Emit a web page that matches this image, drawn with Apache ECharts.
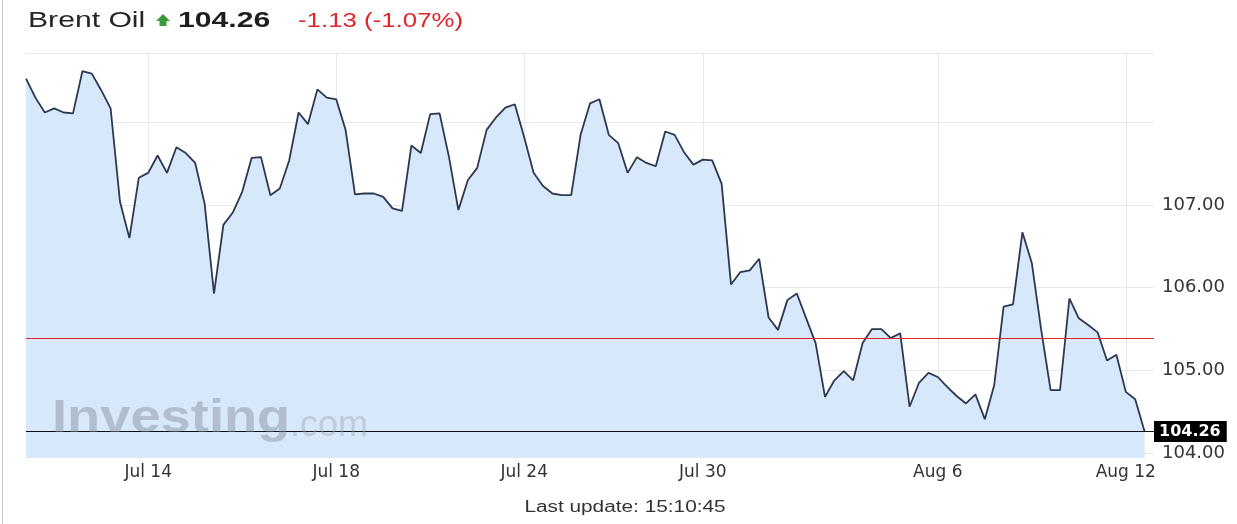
<!DOCTYPE html>
<html>
<head>
<meta charset="utf-8">
<script src="https://cdn.jsdelivr.net/npm/echarts@6/dist/echarts.min.js"></script>
<style>
html,body{margin:0;padding:0;background:#fff;}
#chart{width:1237px;height:524px;}
</style>
</head>
<body>
<div id="chart"></div>
<script>
// ---- data ----
const instrument = 'Brent Oil';
const lastPrice = 104.26;
const change = '-1.13 (-1.07%)';
const prevClose = 105.39;
const lastUpdate = 'Last update: 15:10:45';

const brent = [
  108.53,108.30,108.12,108.17,108.12,108.11,108.62,108.59,108.39,108.17,
  107.04,106.60,107.33,107.39,107.60,107.39,107.70,107.63,107.51,107.02,
  105.93,106.76,106.91,107.16,107.57,107.58,107.12,107.20,107.54,108.12,
  107.98,108.40,108.30,108.28,107.91,107.13,107.14,107.14,107.10,106.96,
  106.93,107.72,107.63,108.10,108.11,107.58,106.94,107.30,107.45,107.91,
  108.06,108.18,108.22,107.82,107.39,107.23,107.14,107.12,107.12,107.85,
  108.23,108.28,107.85,107.75,107.39,107.58,107.51,107.47,107.89,107.85,
  107.64,107.49,107.55,107.54,107.26,106.04,106.19,106.21,106.35,105.64,
  105.49,105.85,105.93,105.63,105.33,104.68,104.88,104.99,104.88,105.33,
  105.50,105.50,105.39,105.45,104.56,104.85,104.97,104.92,104.80,104.69,
  104.60,104.71,104.41,104.82,105.77,105.80,106.67,106.30,105.49,104.76,
  104.76,105.87,105.63,105.55,105.46,105.12,105.19,104.74,104.65,104.26
];
const tickLabels = ['Jul 14','Jul 18','Jul 24','Jul 30','Aug 6','Aug 12'];
const tickIndex  = [13, 33, 53, 72, 97, 117];
const yLabelValues = [104, 105, 106, 107];
const yGridValues  = [104, 105, 106, 107, 108];
const yMin = 103.94, yMax = 108.84;

// category slots (one trailing empty slot keeps the right frame past the last point)
const slots = [];
for (let i = 0; i <= brent.length; i++) slots.push('s' + i);
const labelAt = {};
tickIndex.forEach((idx, k) => { labelAt[idx] = tickLabels[k]; });
const isTick = (i) => labelAt.hasOwnProperty(i);

const SANS = '"Liberation Sans", Arial, sans-serif';
const WIDE = '"DejaVu Sans", sans-serif';
const chart = echarts.init(document.getElementById('chart'));
chart.setOption({
  animation: false,
  backgroundColor: '#ffffff',
  textStyle: { fontFamily: WIDE },
  graphic: [
    { type: 'rect', shape: { x: 2, y: 0, width: 1, height: 524 }, style: { fill: '#c8c8c8' }, silent: true },
    // header
    { type: 'text', x: 28, y: 21, scaleX: 1.37, silent: true,
      style: { text: instrument, font: '22px ' + SANS, fill: '#262626', textVerticalAlign: 'middle' } },
    { type: 'polygon', silent: true,
      shape: { points: [[163, 14], [170, 21], [166.5, 21], [166.5, 26], [159.5, 26], [159.5, 21], [156, 21]] },
      style: { fill: '#3a9b3a' } },
    { type: 'text', x: 178, y: 21, scaleX: 1.37, silent: true,
      style: { text: lastPrice.toFixed(2), font: 'bold 22px ' + SANS, fill: '#1e1e1e', textVerticalAlign: 'middle' } },
    { type: 'text', x: 298, y: 21, scaleX: 1.23, silent: true,
      style: { text: change, font: '21px ' + SANS, fill: '#e0262b', textVerticalAlign: 'middle' } },
    // footer
    { type: 'text', x: 625, y: 508, scaleX: 1.3, silent: true,
      style: { text: lastUpdate, font: '16px ' + SANS, fill: '#333', textAlign: 'center', textVerticalAlign: 'middle' } },
    // watermark
    { type: 'text', x: 52, y: 419, scaleX: 1.18, z: 100, silent: true,
      style: { text: 'Investing', font: 'bold 46px ' + SANS, fill: 'rgba(130,140,152,0.45)', textVerticalAlign: 'middle' } },
    { type: 'text', x: 290, y: 426, z: 100, silent: true,
      style: { text: '.com', font: '36px ' + SANS, fill: 'rgba(150,160,172,0.4)', textVerticalAlign: 'middle' } }
  ],
  grid: { left: 26, right: 83, top: 53, bottom: 66 },
  xAxis: {
    type: 'category',
    data: slots,
    boundaryGap: false,
    axisLine: { show: false },
    axisTick: { show: false },
    axisLabel: {
      interval: (i) => isTick(i),
      formatter: (v, i) => labelAt[i] || '',
      color: '#333', fontSize: 17, margin: 6, fontFamily: WIDE
    },
    splitLine: { show: true, interval: (i) => isTick(i), lineStyle: { color: '#e8e8e8', width: 1 } }
  },
  yAxis: {
    type: 'value',
    position: 'right',
    min: yMin, max: yMax,
    axisLine: { show: false },
    axisTick: { show: false, customValues: yGridValues.concat([yMax]) },
    axisLabel: {
      customValues: yLabelValues,
      color: '#333', fontSize: 18, margin: 8, fontFamily: WIDE,
      formatter: (v) => v.toFixed(2)
    },
    splitLine: { show: true, lineStyle: { color: '#e8e8e8', width: 1 } }
  },
  series: [{
    type: 'line',
    data: brent,
    symbol: 'none',
    z: 3,
    lineStyle: { color: '#2c3850', width: 1.8 },
    areaStyle: { color: '#d7e8fb', opacity: 1, origin: 'start' },
    markLine: {
      silent: true,
      symbol: 'none',
      animation: false,
      data: [
        { yAxis: prevClose, lineStyle: { color: '#e0262b', width: 1, type: 'solid' }, label: { show: false } },
        { yAxis: lastPrice, lineStyle: { color: '#111', width: 1.2, type: 'solid' },
          label: { show: true, position: 'end', distance: 0, formatter: lastPrice.toFixed(2),
                   backgroundColor: '#000', color: '#fff', fontWeight: 'bold', fontSize: 16,
                   padding: [3, 6, 2, 5], fontFamily: WIDE } }
      ]
    }
  }]
});
</script>
</body>
</html>
